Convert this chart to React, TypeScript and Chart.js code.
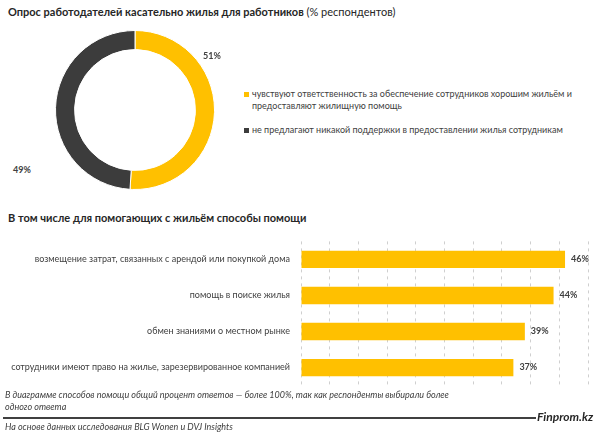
import React, { useEffect, useRef } from "react";
import { Chart, registerables } from "chart.js";

Chart.register(...registerables);

const donutLabels = [
  "чувствуют ответственность за обеспечение сотрудников хорошим жильём и предоставляют жилищную помощь",
  "не предлагают никакой поддержки в предоставлении жилья сотрудникам",
];
const donutValues = [51, 49];
const donutColors = ["#FFC000", "#3C3C3C"];

const barCategories = [
  "возмещение затрат, связанных с арендой или покупкой дома",
  "помощь в поиске жилья",
  "обмен знаниями о местном рынке",
  "сотрудники имеют право на жилье, зарезервированное компанией",
];
const barValues = [46, 44, 39, 37];
const xTicks = [0, 50, 5];

const FONT = "Lato, 'Open Sans', sans-serif";
const TEXT = "#404040";

export default function App() {
  const donutRef = useRef<HTMLCanvasElement>(null);
  const barRef = useRef<HTMLCanvasElement>(null);

  useEffect(() => {
    const donut = new Chart(donutRef.current!, {
      type: "doughnut",
      data: {
        labels: donutLabels,
        datasets: [
          {
            data: donutValues,
            backgroundColor: donutColors,
            borderColor: "#ffffff",
            borderWidth: 1,
          },
        ],
      },
      options: {
        animation: false,
        responsive: false,
        cutout: "76%",
        layout: { padding: 20 },
        plugins: { legend: { display: false }, tooltip: { enabled: false } },
      },
    });

    const labelPlugin = {
      id: "barLabels",
      afterDatasetsDraw(chart: any) {
        const ctx = chart.ctx;
        const meta = chart.getDatasetMeta(0);
        ctx.save();
        ctx.font = `bold 9px ${FONT}`;
        ctx.fillStyle = TEXT;
        ctx.textAlign = "left";
        ctx.textBaseline = "middle";
        meta.data.forEach((el: any, i: number) => {
          ctx.fillText(barValues[i] + "%", el.x + 6, el.y);
        });
        ctx.restore();
      },
    };

    const bar = new Chart(barRef.current!, {
      type: "bar",
      data: {
        labels: barCategories,
        datasets: [
          {
            data: barValues,
            backgroundColor: "#FFC000",
            barPercentage: 0.8,
            categoryPercentage: 0.6,
          },
        ],
      },
      options: {
        animation: false,
        responsive: false,
        indexAxis: "y",
        layout: { padding: { top: 7, bottom: 7, right: 12, left: 0 } },
        plugins: { legend: { display: false }, tooltip: { enabled: false } },
        scales: {
          x: {
            min: xTicks[0],
            max: xTicks[1],
            ticks: { display: false, stepSize: xTicks[2] },
            grid: { color: "#cfcfcf", drawTicks: false },
            border: { display: false, dash: [3, 4] },
            afterFit: (s: any) => {
              s.height = 0;
            },
          },
          y: {
            grid: { display: false, drawTicks: false },
            border: { display: false },
            ticks: { color: TEXT, font: { size: 9, family: FONT }, padding: 11 },
            afterFit: (s: any) => {
              s.width = 301;
            },
          },
        },
      },
      plugins: [labelPlugin],
    });

    return () => {
      donut.destroy();
      bar.destroy();
    };
  }, []);

  const abs = (l: number, t: number): React.CSSProperties => ({
    position: "absolute",
    left: l,
    top: t,
    whiteSpace: "nowrap",
  });

  return (
    <div
      style={{
        position: "absolute",
        left: 0,
        top: 0,
        width: 600,
        height: 437,
        background: "#fff",
        fontFamily: FONT,
        color: TEXT,
        overflow: "hidden",
      }}
    >
      <div style={{ ...abs(8, 5), fontSize: 11, color: "#262626" }}>
        <b>Опрос работодателей касательно жилья для работников</b>{" "}
        <span>(% респондентов)</span>
      </div>
      <canvas
        ref={donutRef}
        width={200}
        height={200}
        style={{ position: "absolute", left: 35, top: 10, width: 200, height: 200 }}
      />
      <div style={{ ...abs(203, 50), fontSize: 9, fontWeight: "bold" }}>51%</div>
      <div style={{ ...abs(13, 164), fontSize: 9, fontWeight: "bold" }}>49%</div>

      <div style={{ ...abs(244, 88), fontSize: 9, lineHeight: "12px" }}>
        <span
          style={{
            position: "absolute",
            left: 0,
            top: 4,
            width: 5,
            height: 5,
            background: donutColors[0],
          }}
        />
        <div style={{ marginLeft: 8 }}>
          чувствуют ответственность за обеспечение сотрудников хорошим жильём и
          <br />
          предоставляют жилищную помощь
        </div>
      </div>
      <div style={{ ...abs(244, 124), fontSize: 9, lineHeight: "12px" }}>
        <span
          style={{
            position: "absolute",
            left: 0,
            top: 4,
            width: 5,
            height: 5,
            background: donutColors[1],
          }}
        />
        <div style={{ marginLeft: 8 }}>{donutLabels[1]}</div>
      </div>

      <div style={{ ...abs(8, 211), fontSize: 11, fontWeight: "bold", color: "#262626" }}>
        В том числе для помогающих с жильём способы помощи
      </div>

      <canvas
        ref={barRef}
        width={600}
        height={177}
        style={{ position: "absolute", left: 0, top: 225, width: 600, height: 177 }}
      />

      <div style={{ ...abs(5, 389), fontSize: 9, fontStyle: "italic", lineHeight: "12px" }}>
        В диаграмме способов помощи общий процент ответов — более 100%, так как респонденты выбирали более
        <br />
        одного ответа
      </div>
      <div
        style={{
          position: "absolute",
          left: 3,
          top: 417,
          width: 533,
          height: 2,
          background: "#404040",
        }}
      />
      <div
        style={{
          ...abs(537, 409),
          fontSize: 12,
          fontWeight: "bold",
          fontStyle: "italic",
          color: "#262626",
        }}
      >
        Finprom.kz
      </div>
      <div style={{ ...abs(5, 421), fontSize: 9, fontStyle: "italic" }}>
        На основе данных исследования BLG Wonen и DVJ Insights
      </div>
    </div>
  );
}
